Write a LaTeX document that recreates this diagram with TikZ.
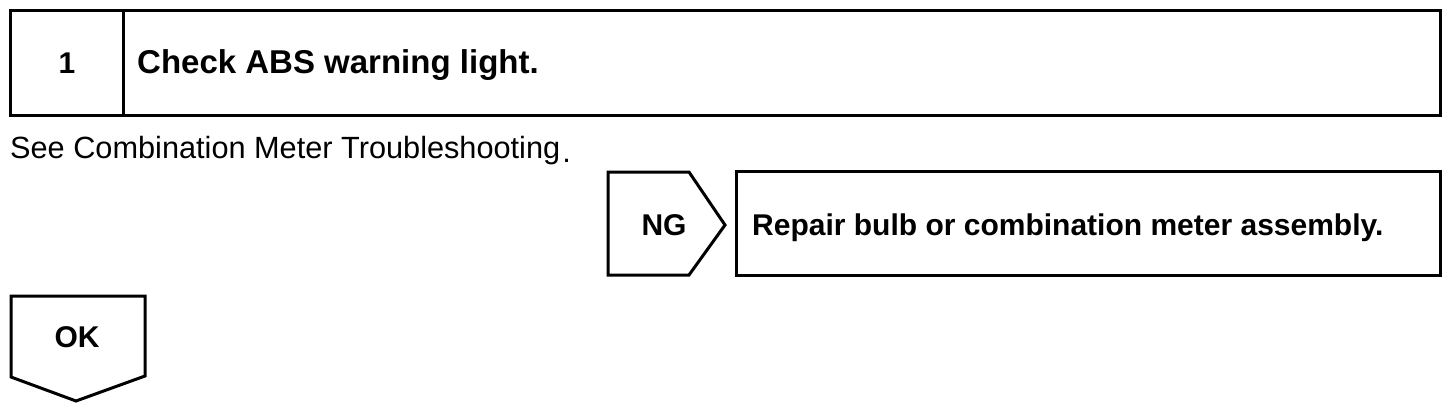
\documentclass[tikz,border=0pt]{standalone}
\usepackage{fontspec}
\setmainfont{Liberation Sans}
\begin{document}
\begin{tikzpicture}[x=1pt,y=-1pt,
  frame/.style={draw=black,line width=3pt,line join=miter},
  boldtxt/.style={font=\fontsize{30}{34}\selectfont\bfseries,inner sep=0pt,anchor=base},
  titletxt/.style={font=\fontsize{33}{36}\selectfont\bfseries,inner sep=0pt,anchor=base west},
  plaintxt/.style={font=\fontsize{30.7}{34}\selectfont,inner sep=0pt,anchor=base west}]
\useasboundingbox (0,0) rectangle (1456,410);
% step header box
\draw[frame] (10,10) rectangle (1440,115);
\draw[frame] (123,10) -- (123,115);
\node[boldtxt] (num) at (67,73) {1};
\node[titletxt] (title) at (137,73) {Check ABS warning light.};
\node[plaintxt] (see) at (10,158) {See Combination Meter Troubleshooting\kern2pt\raisebox{-4pt}{.}};
% NG branch
\draw[frame] (608,172) -- (689,172) -- (725,225) -- (689,275) -- (608,275) -- cycle;
\node[boldtxt] (ng) at (664,235) {NG};
\draw[frame] (736,171) rectangle (1440,275);
\node[boldtxt,anchor=base west] (repair) at (752,235) {Repair bulb or combination meter assembly.};
% OK branch
\draw[frame] (11,296) -- (145,296) -- (145,376) -- (76,401) -- (11,377) -- cycle;
\node[boldtxt] (ok) at (77,347) {OK};
\end{tikzpicture}
\end{document}
